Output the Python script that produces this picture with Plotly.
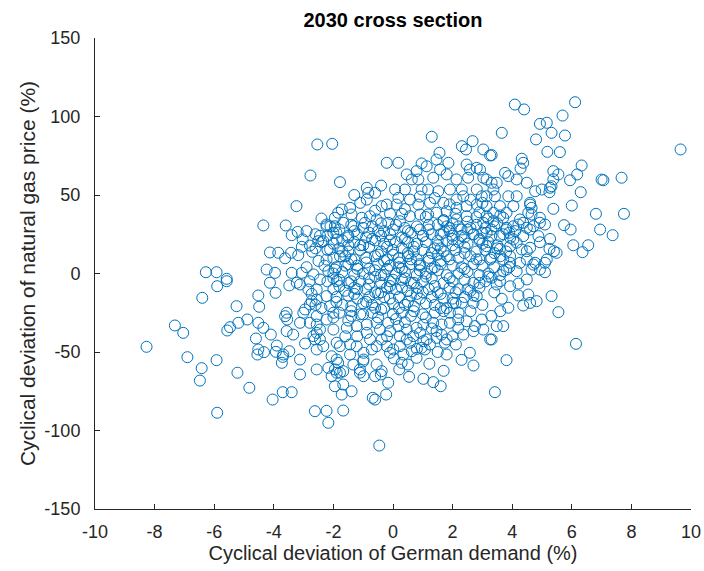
import plotly.graph_objects as go

# (German demand deviation %, natural gas price deviation %)
left_pts = [
    (-2.54, 82.2), (-2.04, 82.6), (-2.77, 62.4), (-1.78, 58.2), (-3.24, 42.9), (-4.35, 30.6), (-3.60, 30.6),
    (-3.20, 26.5), (-3.40, 24.4), (-3.03, 21.7), (-4.13, 13.4), (-3.85, 13.2), (-3.42, 13.2), (-3.18, 11.7),
    (-3.62, 9.7), (-2.79, 17.8), (-2.71, 13.8), (-3.06, 17.0), (-2.51, 20.6), (-6.28, 0.8), (-5.92, 0.8),
    (-5.58, -3.4), (-4.24, 2.5), (-3.96, 0.4), (-3.40, 0.4), (-3.06, 0.4), (-2.67, -0.6), (-5.58, -4.9),
    (-5.90, -8.1), (-6.40, -15.5), (-4.13, -5.9), (-3.94, -12.3), (-3.48, -7.6), (-3.23, -5.9), (-2.84, -10.2),
    (-4.52, -14.0), (-4.49, -21.2), (-5.25, -20.8), (-7.32, -33.1), (-7.04, -37.8), (-8.27, -46.7),
    (-6.90, -53.3), (-5.92, -55.2), (-6.42, -60.3), (-6.48, -68.2), (-5.22, -63.2), (-4.82, -72.8),
    (-5.90, -88.7), (-5.56, -36.3), (-5.47, -34.2), (-5.19, -31.4), (-4.89, -29.3), (-4.52, -31.4),
    (-4.35, -34.6), (-4.60, -41.4), (-4.52, -48.4), (-4.55, -51.6), (-4.33, -50.1), (-4.10, -38.9),
    (-3.90, -45.9), (-3.93, -49.9), (-3.70, -53.1), (-3.73, -56.9), (-3.48, -49.5), (-3.57, -25.0),
    (-3.55, -29.3), (-3.57, -36.7), (-3.35, -38.9), (-3.62, -27.2), (-3.12, -54.8), (-3.12, -64.3),
    (-3.70, -75.6), (-3.40, -75.6), (-4.04, -80.3), (-2.95, -44.6), (-2.67, -39.9), (-2.56, -48.4),
    (-2.56, -61.1), (-2.62, -87.7), (-3.01, -25.0), (-2.95, -22.9), (-2.79, -19.7), (-2.73, -17.6),
    (-2.56, -27.2), (-2.56, -32.5), (-2.56, -10.2), (-2.73, -13.0), (-2.23, 30.1), (-1.84, 38.7),
    (-2.00, 25.9), (-1.89, 21.7), (-2.23, 8.9), (-2.11, 15.3), (-1.78, 11.0), (-2.45, -3.8), (-2.17, 1.5),
    (-1.95, 2.5), (-1.89, -4.9), (-3.12, -7.0), (-3.68, -51.6), (-2.17, -60.1), (-2.06, -65.4),
    (-1.95, -71.8), (-2.23, -87.5), (-2.17, -95.1), (-3.12, -31.4), (-2.79, -31.4), (-2.62, -42.0),
    (-2.45, -35.7), (-2.00, -35.7), (-1.89, -44.1), (-2.23, -29.3), (-2.00, -25.0), (-2.11, -20.8),
    (-2.23, -14.4), (-2.56, -16.6), (-1.89, -63.2), (-2.06, -52.7),
]

bottom_pts = [
    (-1.67, -87.3), (-0.46, -109.6), (-0.60, -80.3), (-0.68, -79.2), (-0.23, -77.1), (-0.16, -69.6),
    (-0.41, -64.3), (-0.60, -65.4), (-0.99, -65.4), (-1.11, -63.2), (-1.39, -75.0), (-1.67, -70.7),
    (-1.72, -77.1), (-1.84, -56.9), (-1.67, -62.2), (-1.33, -58.0), (-0.99, -54.8), (-1.11, -61.1),
    (-0.55, -58.0), (-0.38, -62.2), (0.21, -61.1), (0.54, -65.8), (1.02, -67.1), (1.35, -69.2),
    (1.60, -71.8), (0.03, -54.1), (0.29, -56.9), (-0.10, -50.5), (0.35, -51.6), (0.79, -53.7),
    (0.63, -49.5), (1.22, -57.5), (1.80, -51.6), (2.11, -45.2), (2.58, -50.5), (2.70, -58.6),
    (3.42, -75.6), (3.26, -42.0), (3.03, -35.7), (2.70, -36.7), (2.75, -33.5), (2.98, -29.3),
    (2.47, -30.4), (2.19, -29.3), (1.91, -25.0), (2.02, -18.7), (2.31, -18.7), (2.70, -18.7),
    (2.81, -14.4), (3.48, -33.5), (1.80, -42.0), (1.63, -38.9), (1.74, -44.1), (1.46, -41.0),
    (1.24, -45.2), (1.02, -43.1), (0.96, -47.3), (1.07, -48.4), (0.57, -44.1), (0.23, -46.3),
    (0.01, -48.4), (-0.21, -46.3), (-0.55, -46.3), (-0.71, -48.4), (-0.99, -50.5), (-1.44, -51.6),
    (-1.78, -63.2), (-1.95, -61.1), (-1.89, -54.8), (-2.34, -46.3), (-1.78, -46.3), (-1.44, -45.2),
    (-1.22, -46.3), (-0.77, -42.0), (-0.38, -42.0), (-0.88, -37.8), (-0.44, -35.7), (-0.10, -36.7),
    (0.23, -39.9), (0.46, -42.0), (0.68, -39.9), (0.91, -37.8), (1.13, -42.0), (1.46, -36.7),
    (2.36, -38.9), (2.19, -34.6), (1.91, -31.4), (1.63, -32.5), (1.35, -31.4), (1.02, -32.5),
    (0.79, -34.6), (0.46, -35.7), (0.18, -33.5), (-0.16, -31.4), (-0.55, -31.4), (-0.88, -32.5),
    (-1.22, -33.5), (-1.55, -34.6), (-2.56, -37.8), (-2.45, -42.0),
]

right_pts = [
    (4.09, 107.6), (4.40, 104.5), (6.11, 109.1), (5.69, 100.6), (4.93, 95.3), (5.16, 96.0), (5.32, 89.6),
    (3.65, 89.6), (4.80, 85.4), (5.77, 87.9), (5.18, 77.5), (5.60, 77.3), (9.65, 79.0), (4.32, 73.1),
    (4.37, 70.5), (4.28, 66.9), (3.31, 75.4), (6.33, 68.8), (6.18, 63.1), (5.38, 65.2), (5.55, 63.1),
    (5.94, 59.4), (7.06, 59.4), (7.00, 59.8), (7.67, 61.0), (6.30, 51.8), (6.00, 43.3), (5.38, 41.2),
    (6.81, 38.0), (7.75, 38.0), (5.74, 30.8), (5.96, 28.0), (6.95, 28.0), (7.37, 24.4), (6.05, 18.0),
    (6.55, 18.0), (6.36, 13.6), (5.40, 14.2), (5.25, 15.7), (5.49, 13.2), (4.93, 19.9), (5.10, 6.8),
    (5.10, 0.8), (4.71, 5.7), (5.38, 60.0), (5.32, 55.6), (5.25, 51.8), (4.99, 53.5), (4.77, 52.4),
    (4.65, 41.8), (4.49, 57.8), (4.15, 59.9), (3.87, 62.0), (3.76, 64.1), (4.15, 49.2), (3.87, 49.2),
    (4.93, 32.3), (5.10, 31.2), (4.60, 45.0), (4.65, 37.6), (4.37, 32.3), (4.21, 31.2), (4.88, 23.8),
    (4.49, 29.1), (4.60, 28.0), (4.37, 23.8), (4.04, 21.7), (3.93, 17.4), (4.32, 15.3), (4.49, 14.2),
    (4.49, 8.9), (4.77, 6.8), (4.93, 2.5), (4.26, 6.8), (3.93, 6.8), (3.70, 8.9), (4.15, 1.5), (3.81, 2.5),
    (5.32, -14.4), (5.55, -24.6), (6.14, -44.8), (3.70, -33.5), (3.31, -42.0), (3.81, -55.2),
    (4.82, -17.6), (4.60, -18.7), (4.37, -20.4), (3.87, -21.8), (3.65, -16.1), (3.93, -8.1), (4.21, -6.4),
    (4.49, -3.8), (4.54, -13.4), (4.21, -14.0), (3.48, -7.0), (3.70, 1.5), (4.65, 2.5), (3.31, -2.7),
    (3.59, -4.9), (5.27, 54.6), (4.93, 35.5), (4.71, 30.1), (5.27, 22.0), (4.60, 16.4), (4.60, 43.9),
    (4.54, 38.7), (4.26, 34.4), (4.04, 42.9), (3.81, 38.7), (3.59, 42.9), (3.37, 53.5), (3.31, 57.8),
    (3.42, 49.2), (3.14, 49.2), (3.03, 61.0), (5.16, 8.9), (3.59, 15.6), (3.59, 23.8), (3.93, 22.7),
    (4.04, 30.1), (3.81, 29.1), (3.70, 35.5), (3.37, 33.3), (3.14, 36.5), (4.15, 19.6), (3.93, 11.0),
    (3.26, 8.9), (3.14, 17.4), (3.14, 25.9), (2.92, 66.2),
]

upper_pts = [
    (1.30, 87.1), (-0.21, 70.5), (0.18, 70.5), (2.31, 81.1), (2.67, 84.3), (2.45, 79.0), (3.03, 79.0),
    (3.26, 75.2), (1.56, 76.9), (1.46, 72.6), (1.86, 70.5), (0.96, 70.1), (1.13, 68.3), (0.79, 65.2),
    (1.58, 66.2), (1.80, 63.1), (1.35, 61.0), (2.47, 69.4), (2.58, 66.2), (2.81, 67.3), (2.13, 59.9),
    (2.52, 61.0), (0.46, 63.1), (0.63, 59.9), (0.85, 59.9), (3.14, 59.9), (3.48, 57.8), (-0.88, 54.6),
    (-0.83, 51.4), (-0.60, 51.4), (-0.88, 47.1), (0.07, 53.5), (0.40, 53.5), (0.57, 47.1), (0.96, 53.5),
    (1.18, 53.5), (1.52, 52.4), (1.91, 53.5), (2.31, 53.5), (2.81, 53.5), (2.98, 49.2), (2.13, 47.1),
    (2.36, 49.2), (1.69, 45.0), (1.24, 45.0), (0.85, 43.9), (0.12, 43.9), (-0.21, 43.9), (-0.38, 42.9),
    (0.18, 48.2), (-1.44, 41.8), (-1.72, 40.8), (-1.39, 37.6), (-1.05, 35.5), (-0.77, 36.5), (-1.95, 35.5),
    (-2.23, 31.2), (-2.45, 24.0), (-2.34, 20.6), (-1.95, 30.1), (-1.67, 32.3), (-1.33, 30.1), (-0.94, 32.3),
    (-0.55, 34.4), (-0.16, 32.3), (0.23, 33.3), (0.57, 36.5), (0.91, 37.6), (1.18, 37.6), (1.46, 38.7),
    (1.80, 39.7), (2.13, 41.8), (2.47, 42.9), (2.81, 43.9), (3.14, 42.9), (3.37, 38.7), (2.47, 36.5),
    (2.13, 34.4), (1.69, 33.3), (3.03, 32.3),
]

core_pts = [
    (-2.1, 30), (-1.8, 28), (-1.4, 31), (-1.0, 29), (-0.7, 30), (-0.3, 27), (0.1, 31), (0.4, 29), (0.8, 30),
    (1.2, 28), (1.5, 31), (1.9, 29), (2.2, 30), (2.5, 28), (2.8, 31), (3.1, 29), (3.4, 30), (3.8, 28), (4.1, 27),
    (-2.6, 25), (-2.2, 24), (-1.9, 26), (-1.5, 23), (-1.2, 25), (-0.8, 26), (-0.4, 24), (-0.1, 25), (0.3, 23),
    (0.6, 26), (1.0, 24), (1.3, 25), (1.7, 26), (2.0, 24), (2.4, 23), (2.7, 25), (3.0, 26), (3.3, 24), (3.7, 25),
    (-2.4, 20), (-2.0, 19), (-1.7, 21), (-1.3, 20), (-1.0, 18), (-0.6, 21), (-0.3, 19), (0.1, 20), (0.4, 22),
    (0.8, 19), (1.1, 20), (1.5, 18), (1.8, 21), (2.2, 20), (2.5, 19), (2.9, 21), (3.2, 20), (3.5, 18),
    (-2.2, 15), (-1.8, 16), (-1.5, 14), (-1.1, 15), (-0.8, 17), (-0.4, 14), (0.0, 15), (0.3, 16), (0.7, 14),
    (1.0, 15), (1.4, 16), (1.7, 14), (2.1, 15), (2.4, 17), (2.8, 14), (3.1, 15), (3.5, 16), (3.8, 14),
    (-2.0, 10), (-1.6, 11), (-1.3, 9), (-0.9, 10), (-0.5, 12), (-0.2, 9), (0.2, 10), (0.5, 11), (0.8, 9),
    (1.2, 10), (1.5, 12), (1.9, 9), (2.2, 10), (2.6, 11), (2.9, 9), (3.3, 10), (3.6, 11),
    (-2.3, 5), (-1.9, 4), (-1.5, 6), (-1.2, 5), (-0.8, 3), (-0.5, 6), (-0.1, 5), (0.2, 4), (0.6, 6),
    (0.9, 5), (1.3, 3), (1.6, 6), (2.0, 5), (2.3, 4), (2.7, 6), (3.0, 5), (3.4, 4),
    (-2.0, 0), (-1.7, 1), (-1.3, -1), (-1.0, 0), (-0.6, 2), (-0.3, -1), (0.1, 0), (0.4, 1), (0.8, -1),
    (1.1, 0), (1.5, 2), (1.8, -1), (2.2, 0), (2.5, 1), (2.9, -1), (3.2, 0),
    (-2.2, -5), (-1.8, -4), (-1.5, -6), (-1.1, -5), (-0.8, -3), (-0.4, -6), (-0.1, -5), (0.3, -4), (0.6, -6),
    (1.0, -5), (1.3, -3), (1.7, -6), (2.0, -5), (2.4, -4), (2.7, -6), (3.1, -5),
    (-2.0, -10), (-1.6, -11), (-1.3, -9), (-0.9, -10), (-0.6, -12), (-0.2, -9), (0.1, -10), (0.5, -11),
    (0.8, -9), (1.2, -10), (1.5, -12), (1.9, -9), (2.2, -10), (2.6, -11), (2.9, -9),
    (-1.9, -15), (-1.5, -14), (-1.2, -16), (-0.8, -15), (-0.5, -13), (-0.1, -16), (0.2, -15), (0.6, -14),
    (0.9, -16), (1.3, -15), (1.6, -13), (2.0, -16), (2.4, -15), (2.7, -14),
    (-1.7, -20), (-1.4, -21), (-1.0, -19), (-0.7, -20), (-0.3, -22), (0.0, -19), (0.4, -20), (0.7, -21),
    (1.1, -19), (1.4, -20), (1.8, -22), (2.1, -19),
    (-1.8, -25), (-1.4, -24), (-1.1, -26), (-0.7, -25), (-0.4, -23), (0.0, -26), (0.3, -25), (0.7, -24),
    (1.0, -26), (1.4, -25), (1.7, -24),
]

center_pts = [
    (-0.3, 8), (0.0, 12), (0.3, 3), (0.6, 9), (-0.6, -2), (-0.1, -8), (0.4, -3), (0.9, 6), (1.3, 13), (1.6, 8),
    (2.0, 18), (2.3, 24), (2.6, 29), (1.9, 27), (2.9, 22), (3.3, 28), (-1.1, 18), (-1.5, 24), (-0.7, 22),
    (-0.2, 17), (0.5, 20), (1.0, 24), (1.5, 21), (-1.8, -8), (-1.3, -13), (-0.9, -18), (-0.4, -12), (0.2, -22),
    (0.8, -13), (1.4, -8), (1.9, -3), (2.4, 3), (2.8, 9), (3.2, -2), (-2.4, -22), (-2.0, -28), (-1.5, -30),
    (-1.0, -26), (-0.5, -28), (0.1, -29), (0.6, -27), (1.1, -28), (1.6, -22), (2.2, -25), (2.5, -10),
    (3.0, -20), (3.4, -12), (3.6, -24), (-2.8, -5), (-2.9, 4), (-2.5, 8), (0.0, 28), (0.5, 27), (-0.5, 27),
    (1.2, 31), (2.0, 32), (2.8, 36), (3.5, 32), (3.9, 26), (-1.2, -40), (-0.2, -40), (0.8, -48), (1.5, -50),
    (2.0, -40), (-1.6, -40), (-1.0, -56), (0.5, -58), (2.3, -55), (1.7, -62),
]

dense_pts = [
    (-0.9, 7), (-0.6, 11), (-0.2, 3), (0.2, 7), (0.5, 13), (0.9, 2), (1.2, 8), (-1.2, 3), (-0.8, -7),
    (-0.4, -1), (0.0, -4), (0.3, -9), (0.7, -6), (1.1, -2), (1.4, 4), (1.8, 11), (-1.4, 9), (-1.7, 14),
    (-1.2, -10), (-0.3, -15), (0.5, -18), (1.0, -12), (1.7, -16), (1.7, 34), (2.1, 38), (2.5, 33), (2.9, 39),
    (3.2, 35), (2.3, 28), (2.7, 25), (1.6, 25), (2.0, 22), (3.6, 37), (3.0, 45), (2.6, 47), (1.9, 44),
    (1.4, 48), (0.9, 49), (0.4, 41), (-0.1, 38), (-0.6, 40), (-1.1, 45), (-1.3, 50), (-0.4, 56), (-1.6, 5),
    (-2.0, -3), (-1.4, -5), (-2.6, -20), (-1.9, -18), (-1.4, -27), (-0.6, -22), (0.4, -31), (1.3, -35),
    (2.6, -24), (3.3, -27), (2.1, -12), (2.9, -6), (3.6, -1), (3.9, 4), (3.4, 13), (3.0, 19), (-2.6, 16),
    (-2.9, 27), (-2.4, 35), (-1.5, 18), (-0.9, 23), (-0.1, 21), (0.7, 17), (1.6, 16), (2.4, 13), (1.1, 36),
    (0.3, 38), (-0.4, 32), (-1.3, 27), (0.9, 28), (1.8, 30),
]

x_ticks = [-10, -8, -6, -4, -2, 0, 2, 4, 6, 8, 10]
y_ticks = [-150, -100, -50, 0, 50, 100, 150]

all_pts = left_pts + bottom_pts + right_pts + upper_pts + core_pts + center_pts + dense_pts
xs = [p[0] for p in all_pts]
ys = [p[1] for p in all_pts]

blue = "#0072BD"
axis_col = "#262626"
font_family = "Liberation Sans, Arial, Helvetica, sans-serif"

fig = go.Figure(
    go.Scatter(
        x=xs, y=ys, mode="markers",
        marker=dict(symbol="circle-open", size=11, color=blue, line=dict(width=1, color=blue)),
        hoverinfo="skip", showlegend=False,
    )
)

fig.update_layout(
    width=704, height=571,
    margin=dict(l=95, r=13, t=38, b=62, autoexpand=False),
    paper_bgcolor="white", plot_bgcolor="white",
    font=dict(family=font_family, color=axis_col),
    title=dict(text="<b>2030 cross section</b>", x=(95 + 691) / 2 / 704, xanchor="center",
               y=1 - 20 / 571, yanchor="middle", font=dict(size=20, color="black")),
)
fig.update_xaxes(
    range=[-10, 10], tickvals=x_ticks, ticktext=[str(v) for v in x_ticks],
    showline=True, linecolor=axis_col, linewidth=1, mirror=False, automargin=False,
    ticks="inside", ticklen=5, tickcolor=axis_col, showgrid=False, zeroline=False,
    tickfont=dict(size=18, color=axis_col), ticklabelstandoff=6,
    title=dict(text="Cyclical deviation of German demand (%)", font=dict(size=20, color=axis_col), standoff=4),
)
fig.update_yaxes(
    range=[-150, 150], tickvals=y_ticks, ticktext=[str(v) for v in y_ticks],
    showline=True, linecolor=axis_col, linewidth=1, mirror=False, automargin=False,
    ticks="inside", ticklen=5, tickcolor=axis_col, showgrid=False, zeroline=False,
    tickfont=dict(size=18, color=axis_col), ticklabelstandoff=10,
    title=dict(text="Cyclical deviation of natural gas price (%)", font=dict(size=21, color=axis_col), standoff=3),
)

fig.write_html("out.html")
